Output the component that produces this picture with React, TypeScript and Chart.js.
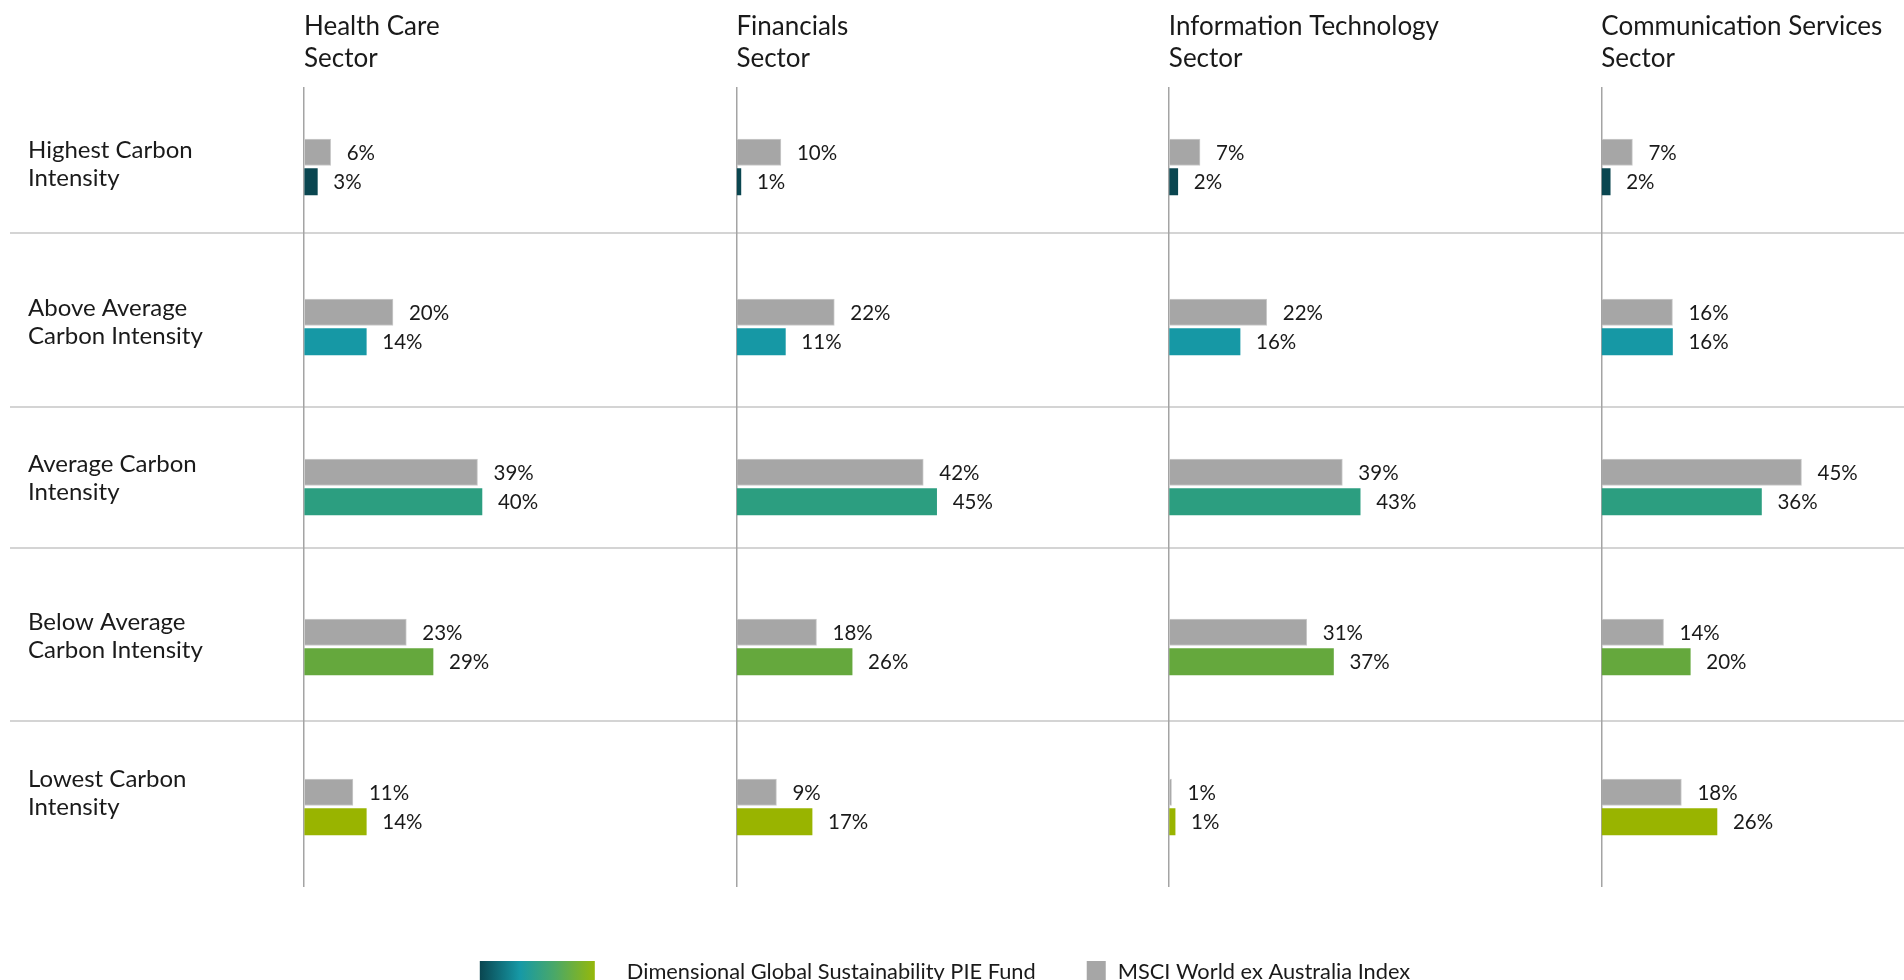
import React, { useEffect, useRef } from 'react';
import { Chart, registerables } from 'chart.js';

Chart.register(...registerables);

// ---------- data ----------
const categories = [
  ['Highest Carbon', 'Intensity'],
  ['Above Average', 'Carbon Intensity'],
  ['Average Carbon', 'Intensity'],
  ['Below Average', 'Carbon Intensity'],
  ['Lowest Carbon', 'Intensity'],
];

const sectorTitles = [
  ['Health Care', 'Sector'],
  ['Financials', 'Sector'],
  ['Information Technology', 'Sector'],
  ['Communication Services', 'Sector'],
];

const fundLabel = 'Dimensional Global Sustainability PIE Fund';
const indexLabel = 'MSCI World ex Australia Index';

// values (%) per carbon-intensity bucket, Highest -> Lowest
const healthCareIndex = [6, 20, 39, 23, 11];
const healthCareFund = [3, 14, 40, 29, 14];
const financialsIndex = [10, 22, 42, 18, 9];
const financialsFund = [1, 11, 45, 26, 17];
const itIndex = [7, 22, 39, 31, 0.6];
const itFund = [2, 16, 43, 37, 1.4];
const commIndex = [7, 16, 45, 14, 18];
const commFund = [2, 16, 36, 20, 26];

const sectorSeries = [
  [healthCareIndex, healthCareFund],
  [financialsIndex, financialsFund],
  [itIndex, itFund],
  [commIndex, commFund],
];

// ---------- styles ----------
const FONT = 'Lato';
const TEXT = '#1a1a1a';
const indexColor = '#A6A6A6';
const indexBorder = '#CBCBCB';
const fundColors = ['#0A4650', '#1698A5', '#2C9E80', '#65A83D', '#99B400'];
const panelWeights = [1, 1, 1, 0.7];
const panelMax = [97.2, 97.2, 97.2, 68.04];
const separatorAt = [0.4125, 1.5, 2.38, 3.4625];
const rowLabelShiftPx = [-2.5, -5, -9, -11, -14];

const separatorPlugin = {
  id: 'separators',
  beforeDraw(chart: any) {
    const { ctx } = chart;
    const y = chart.scales.y;
    ctx.save();
    ctx.strokeStyle = '#D4D4D4';
    ctx.lineWidth = 2;
    separatorAt.forEach((v) => {
      const py = Math.round(y.getPixelForValue(v));
      ctx.beginPath();
      ctx.moveTo(10, py);
      ctx.lineTo(chart.width, py);
      ctx.stroke();
    });
    ctx.restore();
  },
};

const valueLabelPlugin = {
  id: 'valueLabels',
  afterDatasetsDraw(chart: any) {
    const { ctx } = chart;
    ctx.save();
    ctx.font = `20.5px "${FONT}"`;
    ctx.fillStyle = TEXT;
    ctx.textAlign = 'left';
    ctx.textBaseline = 'middle';
    chart.data.datasets.forEach((ds: any, i: number) => {
      const meta = chart.getDatasetMeta(i);
      meta.data.forEach((bar: any, j: number) => {
        const v = ds.data[j];
        ctx.fillText(`${Math.round(v)}%`, bar.x + 16, bar.y + 1);
      });
    });
    ctx.restore();
  },
};

const legendPlugin = {
  id: 'customLegend',
  afterDraw(chart: any) {
    const { ctx, chartArea } = chart;
    ctx.save();
    ctx.font = `21.8px "${FONT}"`;
    const t1 = chart.data.datasets[1].label;
    const t2 = chart.data.datasets[0].label;
    const w1 = ctx.measureText(t1).width;
    const w2 = ctx.measureText(t2).width;
    const swW = 115;
    const sqW = 19;
    const total = swW + 32 + w1 + 51 + sqW + 12 + w2;
    let x = 945 - total / 2;
    const top = chartArea.bottom + 74;
    const grad = ctx.createLinearGradient(x, 0, x + swW, 0);
    grad.addColorStop(0, '#0A4650');
    grad.addColorStop(0.35, '#1699A6');
    grad.addColorStop(0.65, '#4AA868');
    grad.addColorStop(1, '#95B80A');
    ctx.fillStyle = grad;
    ctx.fillRect(x, top, swW, 30);
    x += swW + 32;
    ctx.fillStyle = TEXT;
    ctx.textBaseline = 'alphabetic';
    ctx.textAlign = 'left';
    ctx.fillText(t1, x, top + 18);
    x += w1 + 51;
    ctx.fillStyle = indexColor;
    ctx.fillRect(x, top, sqW, 30);
    x += sqW + 12;
    ctx.fillStyle = TEXT;
    ctx.fillText(t2, x, top + 18);
    ctx.restore();
  },
};

function buildConfig(): any {
  const datasets: any[] = [];
  sectorSeries.forEach(([idx, fund], s) => {
    datasets.push({
      label: indexLabel,
      data: idx,
      xAxisID: 'x' + s,
      yAxisID: 'y',
      stack: 'index',
      backgroundColor: indexColor,
      borderColor: indexBorder,
      borderWidth: 1,
      barThickness: 29.5,
      maxBarThickness: 26.5,
    });
    datasets.push({
      label: fundLabel,
      data: fund,
      xAxisID: 'x' + s,
      yAxisID: 'y',
      stack: 'fund',
      backgroundColor: fundColors,
      borderWidth: 0,
      barThickness: 29.5,
      maxBarThickness: 26.5,
    });
  });

  const scales: any = {
    y: {
      type: 'category',
      labels: categories,
      offset: true,
      grid: { display: false },
      border: { display: false },
      afterBuildTicks: (scale: any) => {
        scale.ticks = categories.map((_, i) => ({ value: i + rowLabelShiftPx[i] / 160 }));
      },
      ticks: {
        crossAlign: 'far',
        padding: 0,
        color: TEXT,
        callback: (_v: any, i: number) => categories[i],
        font: { family: FONT, size: 24, lineHeight: 28 / 24 },
      },
      afterFit: (scale: any) => {
        scale.width = 276;
      },
    },
  };
  // top boxes are laid out in reverse order, so add the last sector first
  for (let s = sectorTitles.length - 1; s >= 0; s--) {
    scales['x' + s] = {
      type: 'linear',
      position: 'top',
      stack: 'sectors',
      stackWeight: panelWeights[s],
      min: 0,
      max: panelMax[s],
      stacked: false,
      ticks: { display: false },
      border: { display: false },
      grid: {
        drawTicks: false,
        lineWidth: 1.5,
        color: (ctx: any) => (ctx.tick && ctx.tick.value === 0 ? '#A4A4A4' : 'rgba(0,0,0,0)'),
      },
      title: {
        display: true,
        text: sectorTitles[s],
        align: 'start',
        color: TEXT,
        font: { family: FONT, size: 26, lineHeight: 31.4 / 26 },
        padding: { top: 11.3, bottom: 12.9 },
      },
    };
  }

  return {
    type: 'bar',
    data: { labels: categories, datasets },
    options: {
      indexAxis: 'y',
      animation: false,
      responsive: true,
      maintainAspectRatio: false,
      layout: { padding: { left: 28, top: 0, right: 0, bottom: 93 } },
      plugins: {
        legend: { display: false },
        tooltip: { enabled: false },
      },
      scales,
    },
    plugins: [separatorPlugin, valueLabelPlugin, legendPlugin],
  };
}

export default function App() {
  const ref = useRef<HTMLCanvasElement>(null);
  useEffect(() => {
    const chart = new Chart(ref.current as HTMLCanvasElement, buildConfig());
    return () => chart.destroy();
  }, []);
  return (
    <div style={{ position: 'fixed', left: 0, top: 0, width: 1904, height: 980 }}>
      <canvas ref={ref} />
    </div>
  );
}
